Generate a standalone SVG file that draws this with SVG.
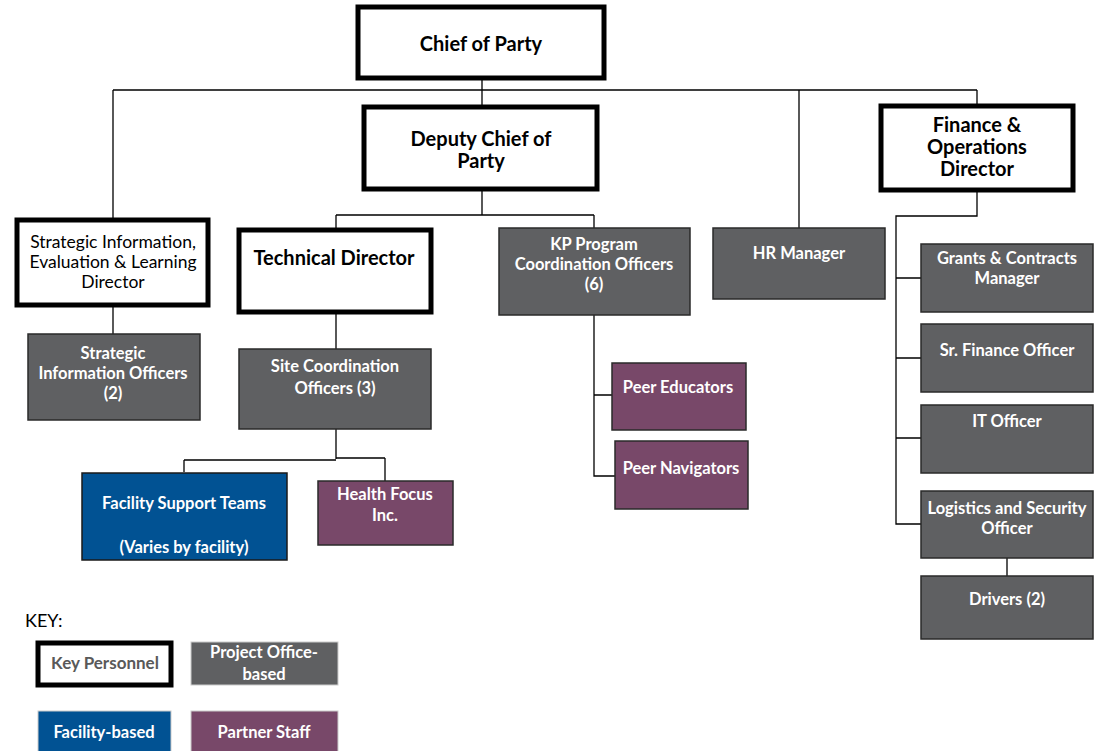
<svg xmlns="http://www.w3.org/2000/svg" width="1096" height="751" viewBox="0 0 1096 751">
<style>
text{font-family:Lato,"Open Sans","Liberation Sans",sans-serif;text-anchor:middle}
.key{fill:#fff;stroke:#000;stroke-width:5}
.gray{fill:#5f6062;stroke:#2a2a2a;stroke-width:1.5}
.blue{fill:#015293;stroke:#1a1a1a;stroke-width:1.5}
.purp{fill:#784869;stroke:#2a2a2a;stroke-width:1.5}
.kt{fill:#000;font-weight:bold;font-size:20px}
.kr{fill:#000;font-size:17.5px}
.wt{fill:#fff;font-weight:bold;font-size:16.5px}
.conn{fill:none;stroke:#000;stroke-width:1.3}
</style>
<g id="connectors" class="conn">
<path d="M482 80V90M113 90H977M482 90V105M113 90V218M799 90V228M977 90V104"/>
<path d="M482 191V215M336 215H594M336 215V228M594 215V228"/>
<path d="M113 307V334"/>
<path d="M336 314V349M336 429V459M184 460H336M336 458H385M184 460V472M385 458V481"/>
<path d="M594 315V476H615M594 395H612"/>
<path d="M977 192V216H896V524H921M896 278H921M896 358H921M896 438H921M1007 558V576"/>
</g>
<g id="chief"><rect class="key" x="358" y="7" width="246" height="71"/><text class="kt" x="481" y="51">Chief of Party</text></g>
<g id="deputy"><rect class="key" x="364" y="107" width="233" height="82"/><text class="kt" x="481" y="146">Deputy Chief of</text><text class="kt" x="481" y="168">Party</text></g>
<g id="finance"><rect class="key" x="881" y="106" width="192" height="84"/><text class="kt" x="977" y="132">Finance &amp;</text><text class="kt" x="977" y="154">Operations</text><text class="kt" x="977" y="176">Director</text></g>
<g id="sie"><rect class="key" x="17" y="220" width="191" height="85"/><text class="kr" x="113" y="248">Strategic Information,</text><text class="kr" x="113" y="268">Evaluation &amp; Learning</text><text class="kr" x="113" y="288">Director</text></g>
<g id="technical"><rect class="key" x="239" y="230" width="192" height="82"/><text class="kt" x="334" y="265">Technical Director</text></g>
<g id="kp"><rect class="gray" x="499" y="228" width="191" height="87"/><text class="wt" x="594" y="250">KP Program</text><text class="wt" x="594" y="270">Coordination Officers</text><text class="wt" x="594" y="290">(6)</text></g>
<g id="hr"><rect class="gray" x="713" y="228" width="172" height="71"/><text class="wt" x="799" y="259">HR Manager</text></g>
<g id="sio"><rect class="gray" x="28" y="334" width="172" height="86"/><text class="wt" x="113" y="359">Strategic</text><text class="wt" x="113" y="379">Information Officers</text><text class="wt" x="113" y="399">(2)</text></g>
<g id="site"><rect class="gray" x="239" y="349" width="192" height="80"/><text class="wt" x="335" y="372">Site Coordination</text><text class="wt" x="335" y="394">Officers (3)</text></g>
<g id="fst"><rect class="blue" x="82" y="473" width="205" height="87"/><text class="wt" x="184" y="509">Facility Support Teams</text><text class="wt" x="184" y="553">(Varies by facility)</text></g>
<g id="hf"><rect class="purp" x="318" y="481" width="135" height="64"/><text class="wt" x="385" y="500">Health Focus</text><text class="wt" x="385" y="521">Inc.</text></g>
<g id="pe"><rect class="purp" x="612" y="363" width="134" height="67"/><text class="wt" x="678" y="393">Peer Educators</text></g>
<g id="pn"><rect class="purp" x="615" y="441" width="133" height="68"/><text class="wt" x="681" y="474">Peer Navigators</text></g>
<g id="grants"><rect class="gray" x="921" y="244" width="172" height="68"/><text class="wt" x="1007" y="264">Grants &amp; Contracts</text><text class="wt" x="1007" y="284">Manager</text></g>
<g id="srfin"><rect class="gray" x="921" y="324" width="172" height="68"/><text class="wt" x="1007" y="356">Sr. Finance Officer</text></g>
<g id="it"><rect class="gray" x="921" y="405" width="172" height="68"/><text class="wt" x="1007" y="427">IT Officer</text></g>
<g id="log"><rect class="gray" x="921" y="491" width="172" height="67"/><text class="wt" x="1007" y="514">Logistics and Security</text><text class="wt" x="1007" y="534">Officer</text></g>
<g id="drivers"><rect class="gray" x="921" y="576" width="172" height="63"/><text class="wt" x="1007" y="605">Drivers (2)</text></g>
<g id="legend">
<text x="25" y="627" style="text-anchor:start;font-size:18px;fill:#000">KEY:</text>
<rect class="key" x="38" y="643" width="133" height="42"/><text x="105" y="669" style="font-weight:bold;font-size:17px;fill:#595959">Key Personnel</text>
<rect x="191" y="642" width="147" height="43" fill="#5f6062" stroke="#ccc" stroke-width="1"/><text class="wt" x="264" y="658">Project Office-</text><text class="wt" x="264" y="680">based</text>
<rect x="38" y="711" width="133" height="41" fill="#015293" stroke="#ccc" stroke-width="1"/><text class="wt" x="104" y="738">Facility-based</text>
<rect x="191" y="711" width="147" height="41" fill="#784869" stroke="#ccc" stroke-width="1"/><text class="wt" x="264" y="738">Partner Staff</text>
</g>
</svg>
